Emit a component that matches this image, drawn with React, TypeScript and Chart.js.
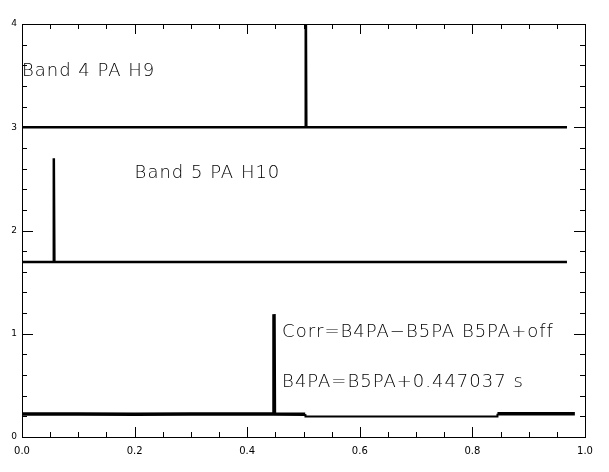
import React, { useEffect, useRef } from "react";
import { Chart, registerables } from "chart.js";

Chart.register(...registerables);

// X tick labels / Y tick labels
const xTickValues = [0, 0.2, 0.4, 0.6, 0.8, 1.0];
const yTickValues = [0, 1, 2, 3, 4];

// Band 4 PA H9 trace (x, y)
const band4: [number, number][] = [
  [0, 3.0], [0.1, 3.001], [0.2, 2.999], [0.3, 3.0], [0.4, 3.001], [0.503, 3.0],
  [0.504, 4.4], [0.505, 3.0], [0.6, 3.001], [0.7, 2.999], [0.8, 3.0], [0.9, 3.001], [0.968, 3.0],
];

// Band 5 PA H10 trace (x, y)
const band5: [number, number][] = [
  [0, 1.695], [0.0555, 1.695], [0.0565, 2.7], [0.0575, 1.695], [0.2, 1.696], [0.4, 1.694],
  [0.6, 1.695], [0.8, 1.696], [0.968, 1.695],
];

// Correlation trace (x, y)
const corr: [number, number][] = [
  [0, 0.222], [0.1, 0.223], [0.2, 0.221], [0.3, 0.222], [0.4, 0.223], [0.4468, 0.222],
  [0.4476, 1.19], [0.4484, 0.222], [0.503, 0.221], [0.5035, 0.199], [0.6, 0.199], [0.7, 0.198],
  [0.844, 0.199], [0.8445, 0.224], [0.9, 0.225], [0.982, 0.224],
];

const annotations: { text: string; x: number; y: number }[] = [
  { text: "Band 4 PA H9", x: 0.0, y: 3.545 },
  { text: "Band 5 PA H10", x: 0.2, y: 2.557 },
  { text: "Corr=B4PA\u2212B5PA B5PA+off", x: 0.462, y: 1.017 },
  { text: "B4PA=B5PA+0.447037 s", x: 0.462, y: 0.533 },
];

const toXY = (arr: [number, number][]) => arr.map(([x, y]) => ({ x, y }));

const framePlugin = {
  id: "frame",
  afterDatasetsDraw(chart: any) {
    const { ctx, chartArea } = chart;
    const xs = chart.scales.x;
    const ys = chart.scales.y;
    const left = Math.round(chartArea.left);
    const right = Math.round(chartArea.right);
    const top = Math.round(chartArea.top);
    const bottom = Math.round(chartArea.bottom);
    ctx.save();
    ctx.fillStyle = "#000";
    // frame
    ctx.fillRect(left, top, right - left + 1, 1);
    ctx.fillRect(left, bottom, right - left + 1, 1);
    ctx.fillRect(left, top, 1, bottom - top + 1);
    ctx.fillRect(right, top, 1, bottom - top + 1);
    // x ticks: major every 0.2, minor every 0.05
    for (let i = 0; i <= 20; i++) {
      const px = Math.round(xs.getPixelForValue(i * 0.05));
      const len = i % 4 === 0 ? 10 : 5;
      ctx.fillRect(px, bottom - len, 1, len);
      ctx.fillRect(px, top, 1, len);
    }
    // y ticks: major every 1, minor every 0.2
    for (let i = 0; i <= 20; i++) {
      const py = Math.round(ys.getPixelForValue(i * 0.2));
      const len = i % 5 === 0 ? 11 : 5;
      ctx.fillRect(left, py, len, 1);
      ctx.fillRect(right - len, py, len, 1);
    }
    // annotations
    ctx.font = '200 18px "DejaVu Sans"';
    ctx.textBaseline = "middle";
    ctx.textAlign = "left";
    try {
      (ctx as any).letterSpacing = "1px";
    } catch (e) {}
    for (const a of annotations) {
      ctx.fillText(a.text, xs.getPixelForValue(a.x), ys.getPixelForValue(a.y));
    }
    ctx.restore();
  },
};

export default function App() {
  const ref = useRef<HTMLCanvasElement>(null);
  useEffect(() => {
    if (!ref.current) return;
    const ds = (d: [number, number][], w: number, noisy?: (x: number) => boolean) => ({
      data: toXY(d),
      borderColor: "#000",
      borderWidth: w,
      pointRadius: 0,
      tension: 0,
      fill: false,
      segment: noisy
        ? {
            borderWidth: (c: any) => (noisy(c.p0.parsed.x) ? 3.5 : 2),
          }
        : undefined,
    });
    const chart = new Chart(ref.current, {
      type: "line",
      data: {
        datasets: [
          ds(band4, 2.5),
          ds(band5, 2.5),
          ds(corr, 2, (x) => x < 0.503 || x >= 0.8445),
        ],
      },
      options: {
        responsive: false,
        animation: false,
        events: [],
        layout: { padding: { top: 24, right: 24, left: 0, bottom: 0 } },
        plugins: { legend: { display: false }, tooltip: { enabled: false } },
        scales: {
          x: {
            type: "linear",
            min: 0,
            max: 1,
            afterFit: (s: any) => {
              s.height = 35;
            },
            afterBuildTicks: (s: any) => {
              s.ticks = xTickValues.map((v) => ({ value: v }));
            },
            grid: { display: false, drawTicks: false },
            border: { display: false },
            ticks: {
              padding: 8,
              color: "#000",
              font: { family: "DejaVu Sans", size: 10 },
              maxRotation: 0,
              autoSkip: false,
              callback: (v: any) => Number(v).toFixed(1),
            },
          },
          y: {
            type: "linear",
            min: 0,
            max: 4,
            afterFit: (s: any) => {
              s.width = 22;
            },
            afterBuildTicks: (s: any) => {
              s.ticks = yTickValues.map((v) => ({ value: v }));
            },
            grid: { display: false, drawTicks: false },
            border: { display: false },
            ticks: {
              padding: 5,
              color: "#000",
              font: { family: "DejaVu Sans", size: 9 },
              autoSkip: false,
              callback: (v: any) => String(Math.round(Number(v))),
            },
          },
        },
      },
      plugins: [framePlugin],
    });
    return () => chart.destroy();
  }, []);
  return (
    <div style={{ position: "fixed", left: 0, top: 0, width: 609, height: 472, background: "#fff" }}>
      <canvas ref={ref} width={609} height={472} />
    </div>
  );
}
